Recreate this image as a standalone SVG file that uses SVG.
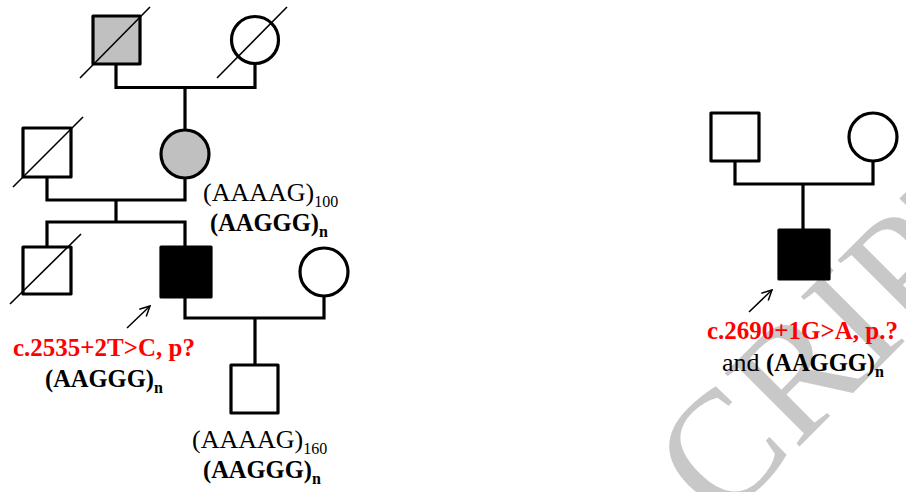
<svg xmlns="http://www.w3.org/2000/svg" width="906" height="492" viewBox="0 0 906 492">
<style>
.sym{stroke:#000;stroke-width:3.2;fill:#fff;stroke-linejoin:round}
.aff{fill:#000}
.car{fill:#c0c0c0}
.dec{stroke:#000;stroke-width:1.6;fill:none}
.ln{stroke:#000;stroke-width:3.2;fill:none;stroke-linejoin:miter}
.arr{stroke:#000;stroke-width:1.5;fill:none;marker-end:url(#ah)}
text{font-family:"Liberation Serif","Times New Roman",serif;font-size:26px}
.b{font-weight:bold;font-size:24.5px}
.red{fill:#ff0000;font-weight:bold;font-size:25px}
.sub{font-size:16px}
.wm{fill:#c8c8c8;font-size:160px;font-weight:normal}
</style>
<defs>
<marker id="ah" viewBox="0 0 12 12" refX="11" refY="6" markerWidth="12" markerHeight="12" markerUnits="userSpaceOnUse" orient="auto">
<path d="M1,1 L11,6 L1,11" fill="none" stroke="#000" stroke-width="1.5"/>
</marker>
</defs>
<g id="watermark">
<text class="wm" x="720" y="526" transform="rotate(-45 720 526)">CRIPT</text>
</g>
<g id="connectors">
<path class="ln" d="M116,64 V87.5 H255 V63.5"/>
<path class="ln" d="M185,87.5 V130"/>
<path class="ln" d="M47,177 V200 H185 V178"/>
<path class="ln" d="M116,200 V222"/>
<path class="ln" d="M47,247 V222 H185 V247"/>
<path class="ln" d="M185,297 V318 H324 V296"/>
<path class="ln" d="M255,318 V365"/>
<path class="ln" d="M735,161 V184 H873 V161"/>
<path class="ln" d="M803,184 V230"/>
<line class="arr" x1="127" y1="328" x2="150" y2="306"/>
<line class="arr" x1="749" y1="312" x2="772" y2="290"/>
</g>
<g id="grandfather">
<rect class="sym car" x="93" y="16" width="47" height="48"/>
<line class="dec" x1="80" y1="78" x2="150" y2="7"/>
</g>
<g id="grandmother">
<circle class="sym" cx="255" cy="40" r="23.5"/>
<line class="dec" x1="217" y1="78" x2="287" y2="7"/>
</g>
<g id="father">
<rect class="sym" x="23" y="128" width="48" height="49"/>
<line class="dec" x1="13" y1="187" x2="83" y2="117"/>
</g>
<g id="mother">
<circle class="sym car" cx="185" cy="154" r="24"/>
<text x="203" y="201">(AAAAG)<tspan class="sub" dy="6">100</tspan></text>
<text class="b" x="210" y="231">(AAGGG)<tspan class="sub" dy="6">n</tspan></text>
</g>
<g id="sibling">
<rect class="sym" x="23" y="247" width="48" height="47"/>
<line class="dec" x1="10" y1="304" x2="81" y2="234"/>
</g>
<g id="proband1">
<rect class="sym aff" x="161" y="247" width="50" height="50"/>
<text class="red" x="13" y="356">c.2535+2T&gt;C, p?</text>
<text class="b" x="45" y="387">(AAGGG)<tspan class="sub" dy="6">n</tspan></text>
</g>
<g id="spouse">
<circle class="sym" cx="324" cy="272" r="24"/>
</g>
<g id="son">
<rect class="sym" x="231" y="365" width="47" height="48"/>
<text x="192" y="448">(AAAAG)<tspan class="sub" dy="6">160</tspan></text>
<text class="b" x="203" y="478">(AAGGG)<tspan class="sub" dy="6">n</tspan></text>
</g>
<g id="father2">
<rect class="sym" x="711" y="113" width="48" height="48"/>
</g>
<g id="mother2">
<circle class="sym" cx="873" cy="137" r="24"/>
</g>
<g id="proband2">
<rect class="sym aff" x="779" y="230" width="50" height="49"/>
<text class="red" x="707" y="339">c.2690+1G&gt;A, p.?</text>
<text x="722" y="371">and <tspan class="b">(AAGGG)</tspan><tspan class="b sub" dy="6">n</tspan></text>
</g>
</svg>
